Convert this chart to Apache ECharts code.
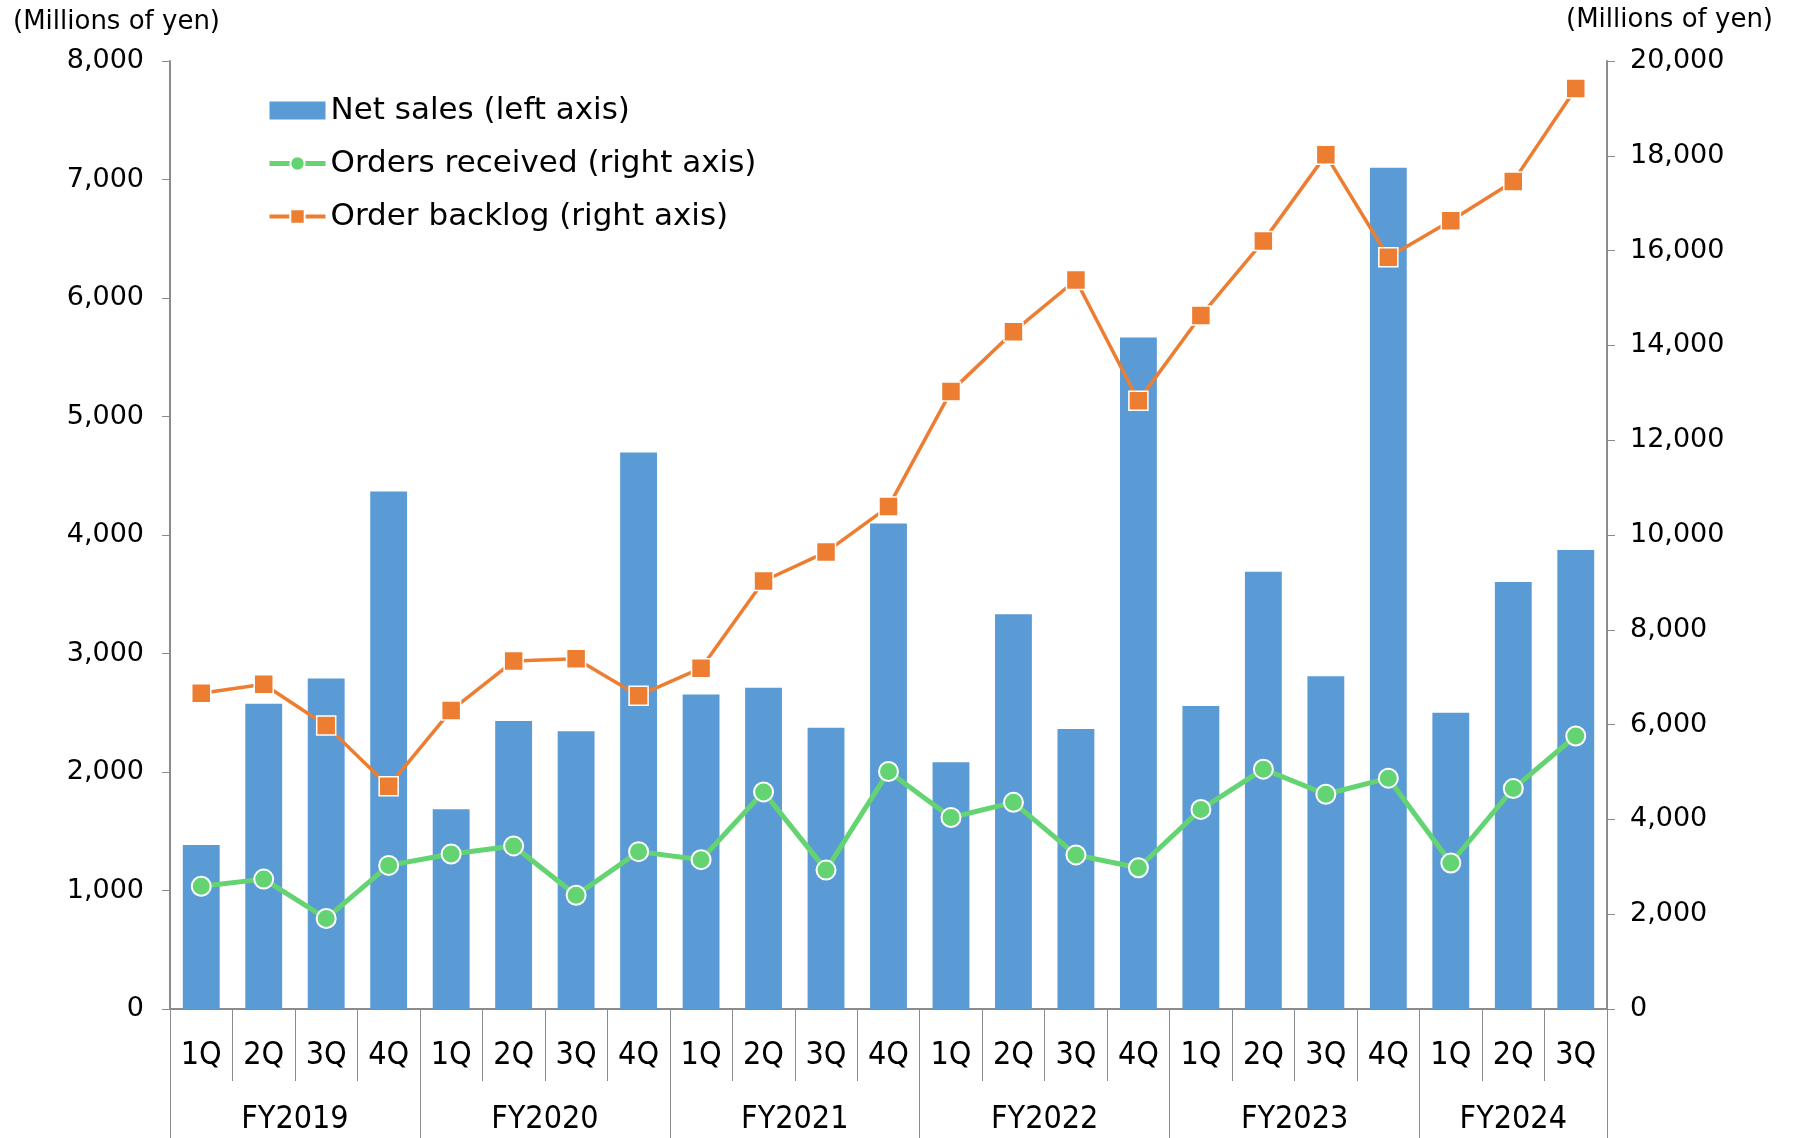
<!DOCTYPE html>
<html>
<head>
<meta charset="utf-8">
<script src="https://cdn.jsdelivr.net/npm/echarts@6/dist/echarts.min.js"></script>
<style>
  html, body { margin: 0; padding: 0; background: #fff; }
  #chart { width: 1800px; height: 1138px; }
</style>
</head>
<body>
<div id="chart"></div>
<script>
// Categories
const quarters = [
  '1Q', '2Q', '3Q', '4Q',
  '1Q', '2Q', '3Q', '4Q',
  '1Q', '2Q', '3Q', '4Q',
  '1Q', '2Q', '3Q', '4Q',
  '1Q', '2Q', '3Q', '4Q',
  '1Q', '2Q', '3Q'
];
const fiscalYears = ['FY2019', 'FY2020', 'FY2021', 'FY2022', 'FY2023', 'FY2024'];
const quartersPerYear = [4, 4, 4, 4, 4, 3];

// Series values (millions of yen)
const netSales = [
  1385, 2576, 2789, 4368,
  1685, 2431, 2344, 4697,
  2654, 2712, 2373, 4097,
  2082, 3332, 2363, 5666,
  2557, 3690, 2809, 7099,
  2499, 3603, 3874
];
const ordersReceived = [
  2590, 2740, 1910, 3030,
  3270, 3440, 2400, 3320,
  3150, 4580, 2930, 5010,
  4040, 4360, 3250, 2980,
  4210, 5060, 4530, 4870,
  3080, 4650, 5760
];
const orderBacklog = [
  6660, 6850, 5980, 4700,
  6300, 7340, 7390, 6610,
  7190, 9030, 9640, 10600,
  13030, 14290, 15380, 12830,
  14630, 16200, 18020, 15860,
  16630, 17460, 19420
];

// Tick labels
const leftTicks = { min: 0, max: 8000, interval: 1000 };
const rightTicks = { min: 0, max: 20000, interval: 2000 };

// Year axis: half-quarter slots so that labels can sit between quarters
const yearSlots = [];
const yearBounds = [0];
let pos = 0;
for (let i = 0; i < quartersPerYear.length; i++) {
  const start = pos;
  pos += quartersPerYear[i] * 2;
  yearBounds.push(pos);
  for (let k = start; k < pos; k++) {
    yearSlots[k] = (k === start + quartersPerYear[i]) ? fiscalYears[i] : '';
  }
}
yearSlots[pos] = '';

const axisGray = '#8c8c8c';
const barBlue = '#5B9BD5';
const green = '#63D471';
const orange = '#ED7D31';
const baseFont = 'DejaVu Sans, Verdana, sans-serif';
const condFont = 'DejaVu Sans Condensed, Liberation Sans Narrow, DejaVu Sans, sans-serif';

const chart = echarts.init(document.getElementById('chart'), null, { renderer: 'canvas' });

const option = {
  animation: false,
  textStyle: { fontFamily: baseFont, color: '#000' },
  title: [
    { text: '(Millions of yen)', left: 8, top: 4,
      textStyle: { fontFamily: baseFont, fontSize: 26, fontWeight: 'normal', color: '#000' } },
    { text: '(Millions of yen)', right: 22, top: 2,
      textStyle: { fontFamily: baseFont, fontSize: 26, fontWeight: 'normal', color: '#000' } }
  ],
  legend: {
    orient: 'vertical',
    left: 262,
    top: 90,
    itemGap: 22,
    itemWidth: 56,
    itemHeight: 18,
    textStyle: { fontFamily: baseFont, fontSize: 31, color: '#000' },
    data: [
      { name: 'Net sales (left axis)', icon: 'rect' },
      { name: 'Orders received (right axis)', lineStyle: { width: 5, color: green } },
      { name: 'Order backlog (right axis)', lineStyle: { width: 4, color: orange } }
    ]
  },
  grid: { left: 170, right: 193, top: 61, bottom: 129, containLabel: false },
  xAxis: [
    {
      type: 'category',
      data: quarters,
      position: 'bottom',
      axisLine: { lineStyle: { color: axisGray, width: 2 } },
      axisTick: { show: true, interval: 0, length: 72, lineStyle: { color: axisGray, width: 1 } },
      axisLabel: { interval: 0, margin: 31, fontFamily: condFont, fontSize: 32, color: '#000' }
    },
    {
      type: 'category',
      data: yearSlots,
      boundaryGap: false,
      position: 'bottom',
      axisLine: { show: false },
      axisTick: {
        show: true,
        length: 129,
        interval: function (idx) { return yearBounds.indexOf(idx) >= 0; },
        lineStyle: { color: axisGray, width: 1 }
      },
      axisLabel: {
        interval: function (idx, val) { return val !== ''; },
        margin: 95,
        fontFamily: condFont, fontSize: 32, color: '#000'
      }
    }
  ],
  yAxis: [
    {
      type: 'value',
      min: leftTicks.min, max: leftTicks.max, interval: leftTicks.interval,
      splitLine: { show: false },
      axisLine: { show: true, lineStyle: { color: axisGray, width: 2 } },
      axisTick: { show: true, length: 8, lineStyle: { color: axisGray } },
      axisLabel: {
        margin: 26, fontFamily: baseFont, fontSize: 27, color: '#000',
        formatter: function (v) { return v.toLocaleString('en-US'); }
      }
    },
    {
      type: 'value',
      min: rightTicks.min, max: rightTicks.max, interval: rightTicks.interval,
      splitLine: { show: false },
      axisLine: { show: true, lineStyle: { color: axisGray, width: 2 } },
      axisTick: { show: true, length: 8, lineStyle: { color: axisGray } },
      axisLabel: {
        margin: 23, fontFamily: baseFont, fontSize: 27, color: '#000',
        formatter: function (v) { return v.toLocaleString('en-US'); }
      }
    }
  ],
  series: [
    {
      name: 'Net sales (left axis)',
      type: 'bar',
      xAxisIndex: 0,
      yAxisIndex: 0,
      barWidth: '59%',
      itemStyle: { color: barBlue },
      data: netSales
    },
    {
      name: 'Orders received (right axis)',
      type: 'line',
      xAxisIndex: 0,
      yAxisIndex: 1,
      symbol: 'circle',
      symbolSize: 19,
      lineStyle: { color: green, width: 5 },
      itemStyle: { color: green, borderColor: '#fff', borderWidth: 2 },
      data: ordersReceived,
      z: 3
    },
    {
      name: 'Order backlog (right axis)',
      type: 'line',
      xAxisIndex: 0,
      yAxisIndex: 1,
      symbol: 'rect',
      symbolSize: 19,
      lineStyle: { color: orange, width: 3.5 },
      itemStyle: { color: orange, borderColor: '#fff', borderWidth: 1.5 },
      data: orderBacklog,
      z: 4
    }
  ]
};

chart.setOption(option);
window.addEventListener('resize', chart.resize);
</script>
</body>
</html>
